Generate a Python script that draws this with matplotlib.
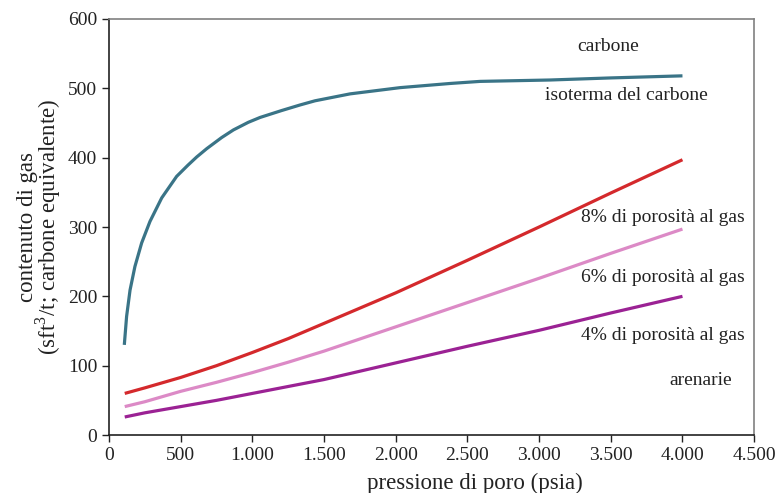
import matplotlib
matplotlib.use("Agg")
import matplotlib.pyplot as plt
from matplotlib.ticker import FuncFormatter

plt.rcParams["font.family"] = ["Liberation Serif", "DejaVu Serif"]
plt.rcParams["mathtext.fontset"] = "custom"
plt.rcParams["mathtext.rm"] = "Liberation Serif"

# isoterma del carbone (pressione psia, contenuto sft3/t)
carbone_p = [107, 123, 147, 181, 228, 286, 368, 472, 550, 612, 682, 786, 868, 972,
             1054, 1205, 1333, 1437, 1682, 2031, 2380, 2589, 3077, 3500, 4000]
carbone_v = [130, 171, 209, 243, 277, 308, 342, 373, 389, 401, 413, 429, 440, 451,
             458, 468, 476, 482, 492, 501, 507, 510, 512, 515, 518]

# arenarie a diversa porosità
are_p = [110, 250, 500, 750, 1000, 1250, 1500, 2000, 2500, 3000, 3500, 4000]
poro8 = [60, 68, 83, 100, 119, 139, 161, 205, 252, 300, 349, 397]
poro6 = [41, 48, 63, 76, 90, 105, 121, 156, 191, 226, 262, 297]
poro4 = [26, 32, 41, 50, 60, 70, 80, 104, 128, 151, 176, 200]

fig = plt.figure(figsize=(7.75, 4.93), dpi=100)
ax = fig.add_axes([0.1406, 0.1176, 0.8325, 0.8439])

ax.plot(carbone_p, carbone_v, color="#3a7487", lw=2.3, solid_capstyle="butt")
ax.plot(are_p, poro8, color="#d4292c", lw=2.3, solid_capstyle="butt")
ax.plot(are_p, poro6, color="#dc8ac6", lw=2.3, solid_capstyle="butt")
ax.plot(are_p, poro4, color="#9b2294", lw=2.3, solid_capstyle="butt")

ax.set_xlim(0, 4500)
ax.set_ylim(0, 600)
ax.set_xticks(range(0, 4501, 500))
ax.set_yticks(range(0, 601, 100))
ax.xaxis.set_major_formatter(FuncFormatter(lambda v, p: f"{int(v):,}".replace(",", ".")))
ax.tick_params(direction="out", length=5, width=1, labelsize=14, colors="#222222")

for s in ["left", "bottom"]:
    ax.spines[s].set_color("#222222")
for s in ["top", "right"]:
    ax.spines[s].set_color("#808080")
for s in ax.spines.values():
    s.set_linewidth(1.2)

ax.set_xlabel("pressione di poro (psia)", fontsize=16.5, color="#222222")
ax.xaxis.set_label_coords(0.567, -0.09)
ax.set_ylabel("contenuto di gas\n(sft$^3$/t; carbone equivalente)", fontsize=16.5,
              color="#222222", linespacing=0.78)
ax.yaxis.set_label_coords(-0.072, 0.5)

tk = dict(fontsize=14, color="#222222")
ax.text(3482, 561, "carbone", ha="center", va="center", **tk)
ax.text(3608, 489, "isoterma del carbone", ha="center", va="center", **tk)
ax.text(3294, 313, "8% di porosità al gas", ha="left", va="center", **tk)
ax.text(3294, 227, "6% di porosità al gas", ha="left", va="center", **tk)
ax.text(3294, 143, "4% di porosità al gas", ha="left", va="center", **tk)
ax.text(4124, 78, "arenarie", ha="center", va="center", **tk)

fig.savefig("out.png", dpi=100)
